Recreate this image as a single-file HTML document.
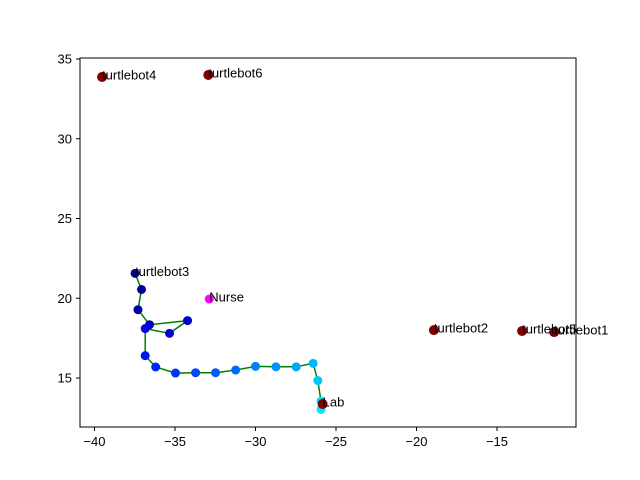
<!DOCTYPE html>
<html><head><meta charset="utf-8">
<style>
html,body{margin:0;padding:0;background:#fff;}
svg{display:block;font-family:"Liberation Sans","DejaVu Sans",sans-serif;}
</style></head>
<body>
<svg id="chart" width="640" height="480">
<rect x="0" y="0" width="640" height="480" fill="#fff"/>
<g id="plot"></g>
<rect x="80" y="58" width="496" height="369" fill="none" stroke="#000" stroke-width="1"/>
<g id="axes"></g>
</svg>
<script>
const pathX = [-37.48,-37.08,-37.30,-36.58,-34.22,-35.34,-36.85,-36.85,-36.20,-34.97,-33.72,-32.48,-31.23,-30.00,-28.73,-27.47,-26.42,-26.13,-25.93,-25.93];
const pathY = [21.56,20.55,19.28,18.34,18.60,17.80,18.10,16.40,15.69,15.31,15.33,15.33,15.50,15.73,15.70,15.70,15.92,14.84,13.55,13.03];
const labelNames = ["turtlebot4","turtlebot6","turtlebot3","Nurse","turtlebot2","turtlebot5","turtlebot1","Lab"];
const labelX = [-39.53,-32.93,-37.48,-32.87,-18.92,-13.44,-11.45,-25.83];
const labelY = [33.87,34.00,21.56,19.95,18.00,17.95,17.88,13.37];
const robotNames = ["turtlebot4","turtlebot6","turtlebot2","turtlebot5","turtlebot1","Lab"];
const robotX = [-39.53,-32.93,-18.92,-13.44,-11.45,-25.83];
const robotY = [33.87,34.00,18.00,17.95,17.88,13.37];
const nurseX = [-32.87];
const nurseY = [19.95];
const xTicks = [-40,-35,-30,-25,-20,-15];
const yTicks = [15,20,25,30,35];

const NS = "http://www.w3.org/2000/svg";
const sx = v => 94.5 + (v + 40) * 16.1;
const sy = v => 378 - (v - 15) * 15.95;
const plot = document.getElementById('plot');
const axes = document.getElementById('axes');
function mk(tag, attrs, parent){const e=document.createElementNS(NS,tag);for(const k in attrs)e.setAttribute(k,attrs[k]);parent.appendChild(e);return e;}

const pts = pathX.map((x,i)=>sx(x).toFixed(1)+','+sy(pathY[i]).toFixed(1)).join(' ');
const line = mk('polyline',{points:pts,fill:'none',stroke:'#008000','stroke-width':1.5},plot);



function grad(t){
  const stops=[[0,[0,0,139]],[0.3,[0,0,230]],[0.5,[0,60,250]],[0.8,[0,170,250]],[1,[0,230,255]]];
  for(let i=1;i<stops.length;i++){if(t<=stops[i][0]){const a=stops[i-1],b=stops[i];const f=(t-a[0])/(b[0]-a[0]);return 'rgb('+a[1].map((c,j)=>Math.round(c+(b[1][j]-c)*f)).join(',')+')';}}
  return 'rgb(0,230,255)';
}
pathX.forEach((x,i)=>{
  const c = mk('circle',{cx:sx(x),cy:sy(pathY[i]),r:4.5,fill:grad(i/(pathX.length-1))},plot);
  
  
});
nurseX.forEach((x,i)=>{
  const c = mk('circle',{cx:sx(x),cy:sy(nurseY[i]),r:4.5,fill:'#ff00ff'},plot);
  
  
});
robotX.forEach((x,i)=>{
  const c = mk('circle',{cx:sx(x),cy:sy(robotY[i]),r:5,fill:'#800000'},plot);
  
  
});
labelNames.forEach((n,i)=>{
  const t = mk('text',{x:sx(labelX[i]),y:sy(labelY[i])+2.5,'font-size':13,fill:'#000'},plot);
  t.textContent = n;
  
  
});
xTicks.forEach(v=>{
  const l = mk('line',{x1:sx(v),x2:sx(v),y1:427,y2:431,stroke:'#000'},axes);
  
  
  const t = mk('text',{x:sx(v),y:446,'font-size':13,'text-anchor':'middle'},axes);
  t.textContent = '\u2212'+Math.abs(v);
  
  
});
yTicks.forEach(v=>{
  const l = mk('line',{x1:76,x2:80,y1:sy(v),y2:sy(v),stroke:'#000'},axes);
  
  
  const t = mk('text',{x:72,y:sy(v)+4.5,'font-size':13,'text-anchor':'end'},axes);
  t.textContent = v;
  
  
});
</script>
</body></html>
